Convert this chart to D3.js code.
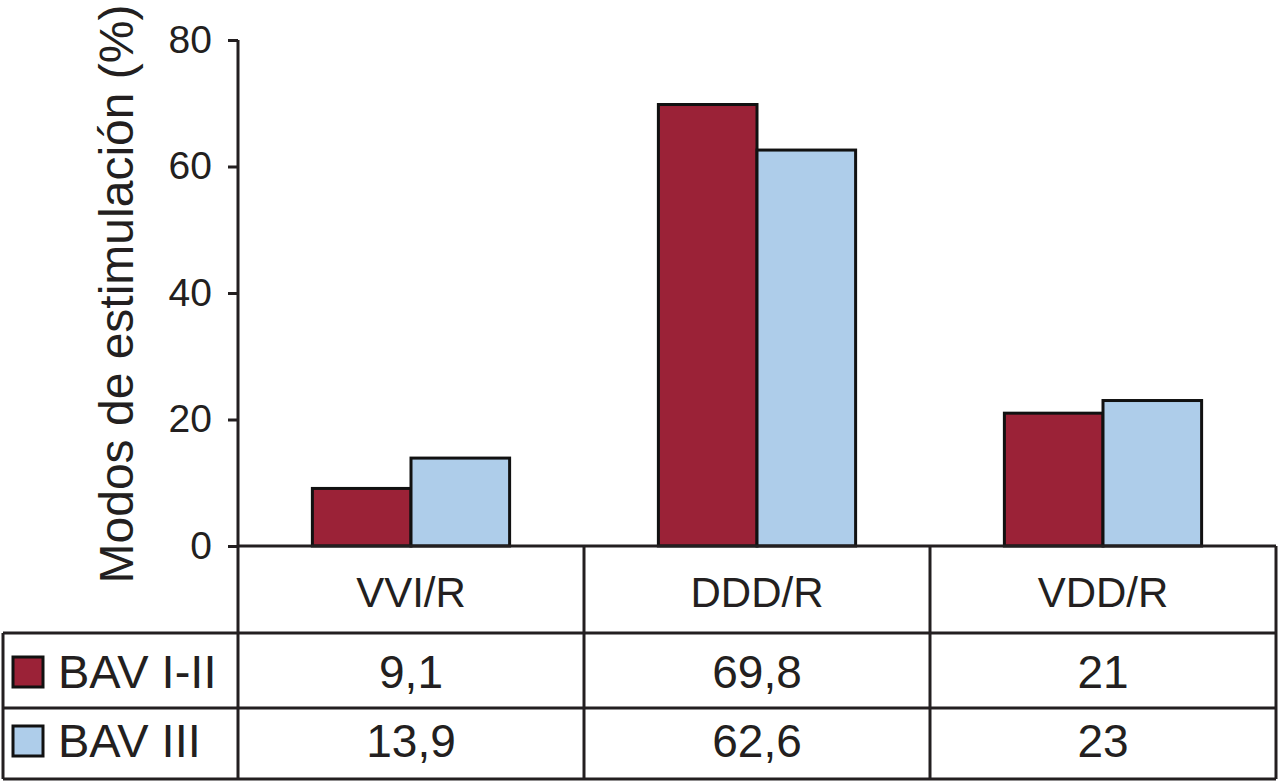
<!DOCTYPE html>
<html>
<head>
<meta charset="utf-8">
<script src="https://cdn.jsdelivr.net/npm/d3@7"></script>
<style>
  body { margin: 0; background: #fff; }
  text { font-family: "Liberation Sans", Arial, sans-serif; fill: #231f20; }
</style>
</head>
<body>
<svg id="chart" width="1278" height="781"></svg>
<script>
const categories = ["VVI/R", "DDD/R", "VDD/R"];
const seriesNames = ["BAV I-II", "BAV III"];
const bavI_II = [9.1, 69.8, 21];
const bavIII = [13.9, 62.6, 23];
const valueLabels = [["9,1", "69,8", "21"], ["13,9", "62,6", "23"]];
const yTicks = [0, 20, 40, 60, 80];
const colors = ["#9b2237", "#aecdea"];

(function() {

const svg = d3.select("#chart");
const ink = "#231f20";

const plotLeft = 238, plotRight = 1276, plotTop = 40, zeroY = 546;
const tableRows = [546, 633, 708, 779];

const x = d3.scaleBand()
  .domain(categories)
  .range([plotLeft, plotRight])
  .paddingInner(0.43)
  .paddingOuter(0.215);

const xSub = d3.scaleBand()
  .domain(seriesNames)
  .range([0, x.bandwidth()]);

const y = d3.scaleLinear()
  .domain([0, 80])
  .range([zeroY, plotTop]);

// bars
const values = [bavI_II, bavIII];
seriesNames.forEach((name, si) => {
  svg.append("g")
    .selectAll("rect")
    .data(categories)
    .enter().append("rect")
    .attr("x", d => x(d) + xSub(name))
    .attr("y", (d, i) => y(values[si][i]))
    .attr("width", xSub.bandwidth())
    .attr("height", (d, i) => y(0) - y(values[si][i]))
    .attr("fill", colors[si])
    .attr("stroke", "#111")
    .attr("stroke-width", 3);
});

// y axis
const yAxis = svg.append("g")
  .attr("transform", `translate(${plotLeft},0)`)
  .call(d3.axisLeft(y).tickValues(yTicks).tickSize(10).tickPadding(16));
yAxis.select(".domain").remove();
yAxis.selectAll(".tick line").attr("stroke", ink).attr("stroke-width", 3);
yAxis.selectAll(".tick text")
  .style("font-size", "39px")
  .attr("fill", ink);

svg.append("line")
  .attr("x1", plotLeft).attr("x2", plotLeft)
  .attr("y1", plotTop).attr("y2", tableRows[3])
  .attr("stroke", ink).attr("stroke-width", 3);

svg.append("text")
  .attr("transform", `translate(133,294) rotate(-90)`)
  .attr("text-anchor", "middle")
  .style("font-size", "48px")
  .text("Modos de estimulación (%)");

// table lines
const grid = svg.append("g").attr("stroke", ink).attr("stroke-width", 3);
grid.append("line").attr("x1", plotLeft).attr("x2", plotRight).attr("y1", zeroY).attr("y2", zeroY);
[633, 708, 779].forEach(yy => {
  grid.append("line").attr("x1", 3).attr("x2", plotRight).attr("y1", yy).attr("y2", yy);
});
grid.append("line").attr("x1", 3).attr("x2", 3).attr("y1", 633).attr("y2", 779);
categories.forEach(c => {
  const x0 = x(c) - x.step() * x.paddingInner() / 2 + x.step();
  grid.append("line").attr("x1", x0).attr("x2", x0).attr("y1", zeroY).attr("y2", 779);
});

// category labels
svg.selectAll(".cat")
  .data(categories)
  .enter().append("text")
  .attr("class", "cat")
  .attr("x", d => x(d) + x.bandwidth() / 2)
  .attr("y", 607)
  .attr("text-anchor", "middle")
  .style("font-size", "42px")
  .text(d => d);

// value rows
const baselines = [688, 757];
valueLabels.forEach((row, ri) => {
  svg.selectAll(".val" + ri)
    .data(row)
    .enter().append("text")
    .attr("x", (d, i) => x(categories[i]) + x.bandwidth() / 2)
    .attr("y", baselines[ri])
    .attr("text-anchor", "middle")
    .style("font-size", "46px")
    .text(d => d);

  svg.append("rect")
    .attr("x", 13).attr("y", baselines[ri] - 31)
    .attr("width", 30).attr("height", 30)
    .attr("fill", colors[ri])
    .attr("stroke", "#111").attr("stroke-width", 3);

  svg.append("text")
    .attr("x", 58).attr("y", baselines[ri])
    .style("font-size", "47px")
    .text(seriesNames[ri]);
});

})();
</script>
</body>
</html>
